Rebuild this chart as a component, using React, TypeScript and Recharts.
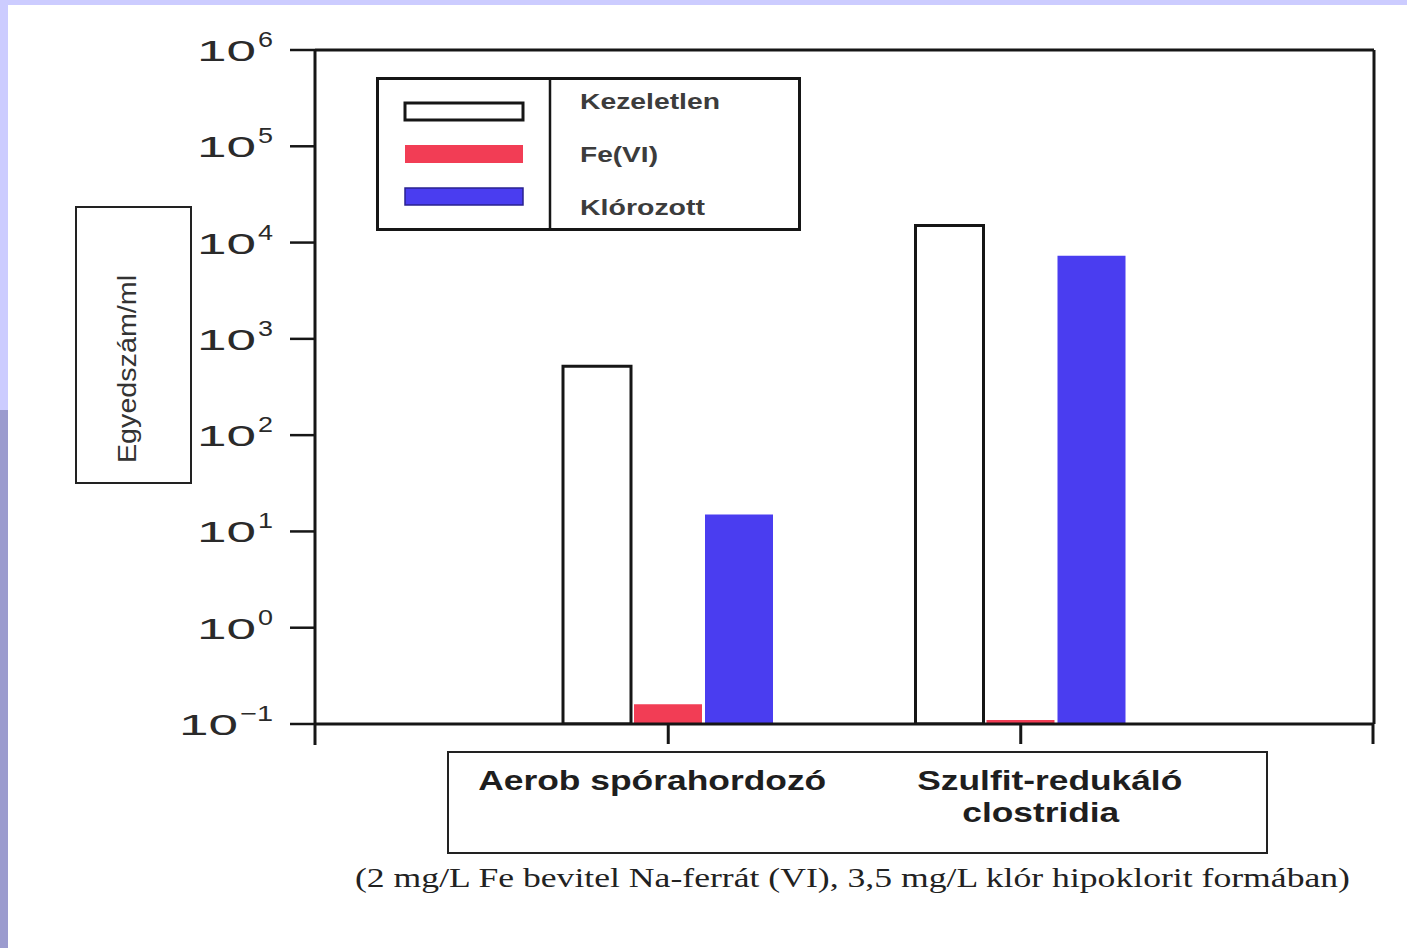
import React from 'react';
import { BarChart, Bar, XAxis, YAxis, Legend } from 'recharts';

// values
const categories = ['Aerob spórahordozó', 'Szulfit-redukáló clostridia'];
const categoryLines = [['Aerob spórahordozó'], ['Szulfit-redukáló', 'clostridia']];
const seriesNames = ['Kezeletlen', 'Fe(VI)', 'Klórozott'];
const kezeletlen = [520, 15000];
const feVI = [0.16, 0.11];
const klorozott = [15, 7300];
const yTicks = [0.1, 1, 10, 100, 1000, 10000, 100000, 1000000];
const yExponents = ['−1', '0', '1', '2', '3', '4', '5', '6'];
const yLabel = 'Egyedszám/ml';
const caption = '(2 mg/L Fe bevitel Na-ferrát (VI), 3,5 mg/L klór hipoklorit formában)';

const data = categories.map((name, i) => ({
  name,
  kezeletlen: kezeletlen[i],
  fe: feVI[i],
  klor: klorozott[i],
}));

const SANS = '"Liberation Sans", Arial, Helvetica, sans-serif';
const SERIF = '"Liberation Serif", "Times New Roman", serif';
const INK = '#161616';
const RED = '#f23d55';
const BLUE = '#4a3df0';

const SWATCHES = [
  { fill: '#ffffff', stroke: INK, strokeWidth: 3, y: 26, h: 17, textY: 32, textW: 140 },
  { fill: RED, stroke: 'none', strokeWidth: 0, y: 68, h: 18, textY: 85, textW: 78 },
  { fill: BLUE, stroke: '#2a2290', strokeWidth: 1.5, y: 111, h: 17, textY: 138, textW: 125 },
];

// label offsets from the category tick (px)
const X_LABEL_LAYOUT = [
  [{ dx: -16, dy: 44, w: 348 }],
  [{ dx: 29, dy: 44, w: 265 }, { dx: 20, dy: 76, w: 157 }],
];

function YTick(props: any) {
  const { x, y, payload } = props;
  const idx = yTicks.findIndex((t) => Math.abs(Math.log10(t) - Math.log10(payload.value)) < 1e-6);
  const exp = yExponents[idx] ?? '';
  const supRight = x - 15;
  const supW = exp.length > 1 ? 33 : 15;
  const baseRight = supRight - supW - 2;
  return (
    <g fill="#2a2a2a" fontFamily={SANS}>
      <text x={baseRight - 59} y={y + 11} fontSize={30} textLength={59} lengthAdjust="spacingAndGlyphs">10</text>
      <text x={supRight - supW} y={y - 3} fontSize={22} textLength={supW} lengthAdjust="spacingAndGlyphs">{exp}</text>
    </g>
  );
}

function XTick(props: any) {
  const { x, y, index } = props;
  const lines = categoryLines[index] || [];
  const layout = X_LABEL_LAYOUT[index] || [];
  return (
    <g fill="#1e1e1e" fontFamily={SANS} fontWeight="bold">
      {lines.map((line, i) => (
        <text
          key={line}
          x={x + layout[i].dx - layout[i].w / 2}
          y={y + layout[i].dy}
          fontSize={27}
          textLength={layout[i].w}
          lengthAdjust="spacingAndGlyphs"
        >
          {line}
        </text>
      ))}
    </g>
  );
}

function LegendBox(props: any) {
  const payload = props.payload || [];
  return (
    <svg width={425} height={154} style={{ display: 'block' }}>
      <rect x={1.5} y={1.5} width={422} height={151} fill="#fff" stroke={INK} strokeWidth={3} />
      <line x1={174} y1={1.5} x2={174} y2={152.5} stroke={INK} strokeWidth={2.5} />
      {payload.map((entry: any) => {
        const s = SWATCHES[seriesNames.indexOf(entry.value)];
        if (!s) return null;
        return (
          <g key={entry.value}>
            <rect x={29} y={s.y} width={118} height={s.h} fill={s.fill} stroke={s.stroke} strokeWidth={s.strokeWidth} />
            <text
              x={204}
              y={s.textY}
              fontFamily={SANS}
              fontWeight="bold"
              fontSize={22}
              fill="#3c3c3c"
              textLength={s.textW}
              lengthAdjust="spacingAndGlyphs"
            >
              {entry.value}
            </text>
          </g>
        );
      })}
    </svg>
  );
}

export default function App() {
  return (
    <div style={{ position: 'absolute', left: 0, top: 0, width: 1407, height: 948, background: '#ccccff', overflow: 'hidden' }}>
      <div style={{ position: 'absolute', left: 0, top: 410, width: 8, height: 538, background: '#9b9bce' }} />
      <div style={{ position: 'absolute', left: 8, top: 5, width: 1399, height: 943, background: '#ffffff' }} />

      <div style={{ position: 'absolute', left: 0, top: 0 }}>
        <BarChart
          width={1407}
          height={948}
          data={data}
          margin={{ top: 49, right: 33, bottom: 194, left: 255 }}
          barGap={3}
        >
          <XAxis
            dataKey="name"
            height={30}
            padding={{ left: 177, right: 177 }}
            interval={0}
            tickSize={20}
            tick={<XTick />}
            axisLine={{ stroke: INK, strokeWidth: 3 }}
            tickLine={{ stroke: INK, strokeWidth: 3 }}
          />
          <XAxis
            xAxisId="top"
            orientation="top"
            dataKey="name"
            height={1}
            tick={false}
            tickLine={false}
            axisLine={{ stroke: INK, strokeWidth: 3 }}
          />
          <YAxis
            type="number"
            scale="log"
            domain={[0.1, 1000000]}
            allowDataOverflow
            ticks={yTicks}
            interval={0}
            width={60}
            tickSize={25}
            tick={<YTick />}
            axisLine={{ stroke: INK, strokeWidth: 3 }}
            tickLine={{ stroke: INK, strokeWidth: 2.5 }}
          />
          <YAxis
            yAxisId="r"
            orientation="right"
            type="number"
            scale="log"
            domain={[0.1, 1000000]}
            allowDataOverflow
            ticks={yTicks}
            interval={0}
            width={1}
            mirror
            tickSize={33}
            tick={false}
            axisLine={{ stroke: INK, strokeWidth: 3 }}
            tickLine={{ stroke: INK, strokeWidth: 2.5 }}
          />
          <Legend
            layout="vertical"
            align="center"
            verticalAlign="middle"
            itemSorter={null}
            content={<LegendBox />}
            wrapperStyle={{ position: 'absolute', left: 376, top: 77, width: 425, height: 154 }}
          />
          <Bar dataKey="kezeletlen" name="Kezeletlen" fill="#ffffff" stroke={INK} strokeWidth={3} barSize={68} isAnimationActive={false} />
          <Bar dataKey="fe" name="Fe(VI)" fill={RED} barSize={68} isAnimationActive={false} />
          <Bar dataKey="klor" name="Klórozott" fill={BLUE} barSize={68} isAnimationActive={false} />
        </BarChart>
      </div>

      {/* boxes, axis title, caption */}
      <svg width={1407} height={948} style={{ position: 'absolute', left: 0, top: 0, pointerEvents: 'none' }}>
        <line x1={315} y1={724} x2={315} y2={745} stroke={INK} strokeWidth={3} />
        <line x1={1373} y1={724} x2={1373} y2={744} stroke={INK} strokeWidth={3} />
        <rect x={76} y={207} width={115} height={276} fill="none" stroke="#222" strokeWidth={2} />
        <text
          transform="translate(136,369) rotate(-90)"
          x={-94}
          y={0}
          fontFamily={SANS}
          fontSize={26}
          fill="#333"
          textLength={188}
          lengthAdjust="spacingAndGlyphs"
        >
          {yLabel}
        </text>
        <rect x={448} y={752} width={819} height={101} fill="none" stroke="#222" strokeWidth={2} />
        <text x={355} y={887} fontFamily={SERIF} fontSize={28} fill="#222" textLength={995} lengthAdjust="spacingAndGlyphs">
          {caption}
        </text>
      </svg>
    </div>
  );
}
